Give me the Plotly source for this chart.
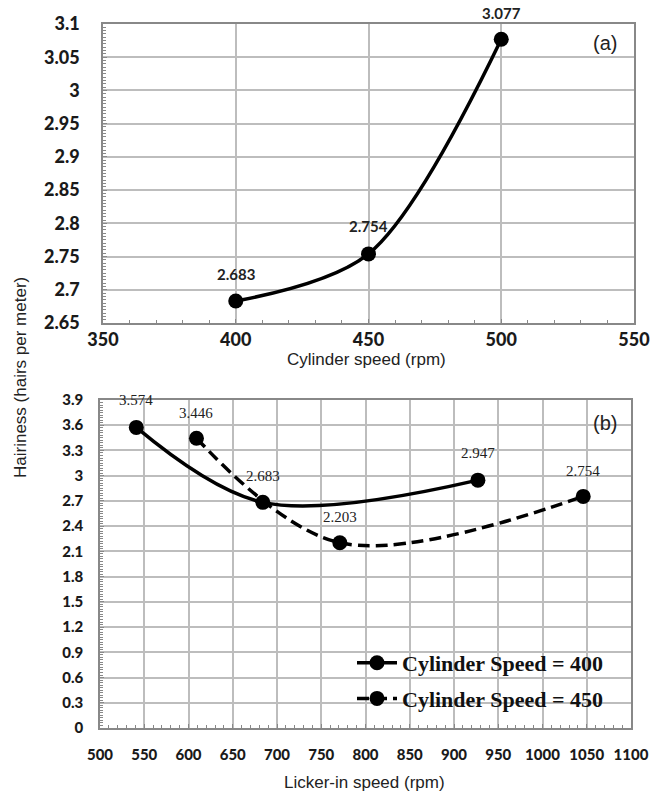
import plotly.graph_objects as go

W, H = 664, 796

# Panel (a): hairiness vs cylinder speed
cyl_speed = [400, 450, 500]
hair_a = [2.683, 2.754, 3.077]
labels_a = ["2.683", "2.754", "3.077"]

# Panel (b): hairiness vs licker-in speed
lick_400 = [541, 684, 927]
hair_400 = [3.574, 2.683, 2.947]
lab_400 = ["3.574", "2.683", "2.947"]
lick_450 = [609, 771, 1046]
hair_450 = [3.446, 2.203, 2.754]
lab_450 = ["3.446", "2.203", "2.754"]

ya_ticks = [2.65, 2.7, 2.75, 2.8, 2.85, 2.9, 2.95, 3.0, 3.05, 3.1]
ya_text = ["2.65", "2.7", "2.75", "2.8", "2.85", "2.9", "2.95", "3", "3.05", "3.1"]
xa_ticks = [350, 400, 450, 500, 550]
yb_ticks = [0, 0.3, 0.6, 0.9, 1.2, 1.5, 1.8, 2.1, 2.4, 2.7, 3.0, 3.3, 3.6, 3.9]
yb_text = ["0", "0.3", "0.6", "0.9", "1.2", "1.5", "1.8", "2.1", "2.4", "2.7", "3", "3.3", "3.6", "3.9"]
xb_ticks = list(range(500, 1101, 50))

def px_x(p):
    return p / W

def px_y(p):
    return 1 - p / H

fig = go.Figure()
fig.add_trace(go.Scatter(x=cyl_speed, y=hair_a, mode="lines+markers",
                         line=dict(color="black", width=3.5, shape="spline", smoothing=0.9),
                         marker=dict(color="black", size=15),
                         xaxis="x", yaxis="y", showlegend=False))
fig.add_trace(go.Scatter(x=lick_400, y=hair_400, mode="lines+markers",
                         name="Cylinder Speed = 400", legendgroup="a",
                         line=dict(color="black", width=3.5, shape="spline"),
                         marker=dict(color="black", size=15),
                         xaxis="x2", yaxis="y2"))
fig.add_trace(go.Scatter(x=lick_450, y=hair_450, mode="lines+markers",
                         name="Cylinder Speed = 450", legendgroup="b",
                         line=dict(color="black", width=3.5, shape="spline", dash="12px,6px"),
                         marker=dict(color="black", size=15),
                         xaxis="x2", yaxis="y2"))

ann = []
lab_font_a = dict(family="Lato", size=15, color="#222")
shifts_a = [(0, 27), (0, 28), (0, 26)]
for x, y, t, s in zip(cyl_speed, hair_a, labels_a, shifts_a):
    ann.append(dict(x=x, y=y, xref="x", yref="y", text="<b>" + t + "</b>", showarrow=False,
                    xshift=s[0], yshift=s[1], font=lab_font_a))
lab_font_b = dict(family="Liberation Serif", size=15, color="#222")
shifts_400 = [(0, 27), (0, 26), (0, 27)]
shifts_450 = [(0, 25), (0, 26), (0, 25)]
for x, y, t, s in zip(lick_400, hair_400, lab_400, shifts_400):
    ann.append(dict(x=x, y=y, xref="x2", yref="y2", text=t, showarrow=False,
                    xshift=s[0], yshift=s[1], font=lab_font_b))
for x, y, t, s in zip(lick_450, hair_450, lab_450, shifts_450):
    ann.append(dict(x=x, y=y, xref="x2", yref="y2", text=t, showarrow=False,
                    xshift=s[0], yshift=s[1], font=lab_font_b))

title_font = dict(family="Liberation Sans", size=17, color="#222")
ann += [
    dict(x=px_x(366), y=px_y(359), xref="paper", yref="paper", text="Cylinder speed (rpm)",
         showarrow=False, font=title_font, xanchor="center", yanchor="middle"),
    dict(x=px_x(365), y=px_y(782), xref="paper", yref="paper", text="Licker-in speed (rpm)",
         showarrow=False, font=title_font, xanchor="center", yanchor="middle"),
    dict(x=px_x(20), y=px_y(378), xref="paper", yref="paper", text="Hairiness (hairs per meter)",
         showarrow=False, font=title_font, textangle=-90, xanchor="center", yanchor="middle"),
    dict(x=px_x(605), y=px_y(43), xref="paper", yref="paper", text="(a)",
         showarrow=False, font=dict(family="Liberation Sans", size=20, color="#222"),
         xanchor="center", yanchor="middle"),
    dict(x=px_x(605), y=px_y(423), xref="paper", yref="paper", text="(b)",
         showarrow=False, font=dict(family="Liberation Sans", size=20, color="#222"),
         xanchor="center", yanchor="middle"),
]

grid = "#bdbdbd"
axline = "#888888"
tick_font_a = dict(family="Lato", size=18, color="#1a1a1a", weight=900)
tick_font_b = dict(family="Lato", size=15, color="#1a1a1a", weight=900)

common = dict(showgrid=True, gridcolor=grid, gridwidth=1.5, showline=True, linecolor=axline,
              linewidth=1.5, mirror=True, zeroline=False, ticks="inside", ticklen=4,
              tickcolor=axline, automargin=False)

fig.update_layout(
    width=W, height=H, margin=dict(l=0, r=0, t=0, b=0),
    paper_bgcolor="white", plot_bgcolor="white",
    xaxis=dict(domain=[px_x(103), px_x(634)], range=[350, 550], tickmode="array",
               tickvals=xa_ticks, ticktext=[str(v) for v in xa_ticks], anchor="y",
               tickfont=tick_font_a, ticklabelstandoff=0,
               minor=dict(dtick=10, ticks="inside", ticklen=3, tickcolor=axline, showgrid=False),
               **common),
    yaxis=dict(domain=[px_y(323), px_y(24)], range=[2.65, 3.1], tickmode="array",
               tickvals=ya_ticks, ticktext=ya_text, anchor="x",
               tickfont=tick_font_a, ticklabelstandoff=18,
               minor=dict(dtick=0.005, ticks="inside", ticklen=3, tickcolor=axline, showgrid=False),
               **common),
    xaxis2=dict(domain=[px_x(100), px_x(631)], range=[500, 1100], tickmode="array",
                tickvals=xb_ticks, ticktext=[str(v) for v in xb_ticks], anchor="y2",
                tickfont=tick_font_b, ticklabelstandoff=12,
                minor=dict(dtick=10, ticks="inside", ticklen=3, tickcolor=axline, showgrid=False),
                **common),
    yaxis2=dict(domain=[px_y(728), px_y(400)], range=[0, 3.9], tickmode="array",
                tickvals=yb_ticks, ticktext=yb_text, anchor="x2",
                tickfont=tick_font_b, ticklabelstandoff=12,
                minor=dict(dtick=0.03, ticks="inside", ticklen=3, tickcolor=axline, showgrid=False),
                **common),
    legend=dict(x=px_x(352), y=px_y(681), xanchor="left", yanchor="middle",
                bgcolor="rgba(0,0,0,0)", traceorder="grouped", tracegroupgap=4,
                font=dict(family="Liberation Serif", size=22, color="#111", weight="bold"),
                itemwidth=40),
    annotations=ann,
)

fig.write_html("out.html")
